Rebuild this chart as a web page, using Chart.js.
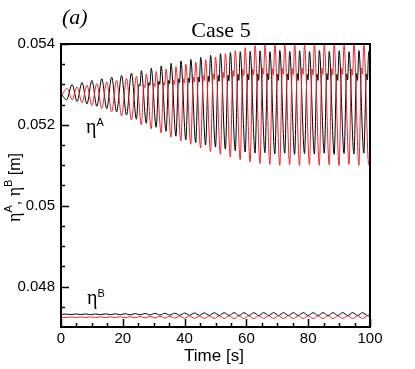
<!DOCTYPE html>
<html>
<head>
<meta charset="utf-8">
<script src="https://cdn.jsdelivr.net/npm/chart.js@4"></script>
<style>
  html, body { margin: 0; padding: 0; background: #fff; }
  #wrap { width: 415px; height: 369px; }
</style>
</head>
<body>
<div id="wrap"><canvas id="chart" width="415" height="369"></canvas></div>
<script>
// axis ticks
const xTicks = [0, 20, 40, 60, 80, 100];
const xMinorTicks = [5, 10, 15, 25, 30, 35, 45, 50, 55, 65, 70, 75, 85, 90, 95];
const yTicks = [0.048, 0.05, 0.052, 0.054];
const yTickLabels = ['0.048', '0.05', '0.052', '0.054'];
const yMinorTicks = [0.0475, 0.0485, 0.049, 0.0495, 0.0505, 0.051, 0.0515, 0.0525, 0.053, 0.0535];

// eta A, black curve: [time, value]
const etaA_black = [
  [0, 0.05278], [1.8, 0.05262], [3.6, 0.05300], [5.2, 0.05258], [6.8, 0.05305], [8.4, 0.05252],
  [10, 0.05310], [11.6, 0.05246], [13.2, 0.05314], [14.8, 0.05240], [16.4, 0.05318], [18, 0.05232],
  [19.6, 0.05322], [21.2, 0.05224], [22.8, 0.05328], [24.4, 0.05214],
  [25.25, 0.05300], [25.55, 0.05296], [26, 0.05334], [27.6, 0.05204],
  [28.45, 0.05305], [28.75, 0.05298], [29.2, 0.05340], [30.8, 0.05194],
  [31.65, 0.05308], [31.95, 0.05300], [32.4, 0.05346], [34, 0.05184],
  [34.85, 0.05310], [35.15, 0.05302], [35.6, 0.05352], [37.2, 0.05172],
  [38.05, 0.05314], [38.35, 0.05304], [38.8, 0.05358], [40.4, 0.05163],
  [41.25, 0.05316], [41.55, 0.05305], [42, 0.05362], [43.6, 0.05156],
  [44.45, 0.05318], [44.75, 0.05306], [45.2, 0.05367], [46.8, 0.05150],
  [47.65, 0.05320], [47.95, 0.05307], [48.4, 0.05372], [50, 0.05145],
  [50.85, 0.05322], [51.15, 0.05308], [51.6, 0.05376], [53.2, 0.05140],
  [54.05, 0.05323], [54.35, 0.05309], [54.8, 0.05379], [56.4, 0.05136],
  [57.25, 0.05325], [57.55, 0.05310], [58, 0.05381], [59.6, 0.05133],
  [60.45, 0.05326], [60.75, 0.05311], [61.2, 0.05382], [62.8, 0.05130],
  [63.65, 0.05326], [63.95, 0.05310], [64.4, 0.05383], [66, 0.05131],
  [66.85, 0.05327], [67.15, 0.05311], [67.6, 0.05381], [69.2, 0.05128],
  [70.05, 0.05325], [70.35, 0.05310], [70.8, 0.05384], [72.4, 0.05130],
  [73.25, 0.05326], [73.55, 0.05311], [74, 0.05382], [75.6, 0.05127],
  [76.45, 0.05327], [76.75, 0.05310], [77.2, 0.05383], [78.8, 0.05129],
  [79.65, 0.05325], [79.95, 0.05311], [80.4, 0.05381], [82, 0.05128],
  [82.85, 0.05326], [83.15, 0.05310], [83.6, 0.05384], [85.2, 0.05130],
  [86.05, 0.05327], [86.35, 0.05311], [86.8, 0.05382], [88.4, 0.05127],
  [89.25, 0.05325], [89.55, 0.05310], [90, 0.05383], [91.6, 0.05129],
  [92.45, 0.05326], [92.75, 0.05311], [93.2, 0.05381], [94.8, 0.05128],
  [95.65, 0.05327], [95.95, 0.05310], [96.4, 0.05384], [98, 0.05130],
  [98.85, 0.05326], [99.15, 0.05311], [99.6, 0.05382], [100, 0.05375]
];

// eta A, red curve
const etaA_red = [
  [0, 0.05270], [2, 0.05290], [3.6, 0.05262], [5.2, 0.05294], [6.8, 0.05255], [8.4, 0.05298],
  [10, 0.05248], [11.6, 0.05302], [13.2, 0.05240], [14.8, 0.05306], [16.4, 0.05232], [18, 0.05310],
  [19.6, 0.05222], [21.2, 0.05315], [22.8, 0.05212], [24.4, 0.05320], [26, 0.05200],
  [26.85, 0.05298], [27.15, 0.05292], [27.6, 0.05326], [29.2, 0.05190],
  [30.05, 0.05302], [30.35, 0.05295], [30.8, 0.05332], [32.4, 0.05180],
  [33.25, 0.05306], [33.55, 0.05298], [34, 0.05338], [35.6, 0.05170],
  [36.45, 0.05310], [36.75, 0.05300], [37.2, 0.05344], [38.8, 0.05160],
  [39.65, 0.05314], [39.95, 0.05303], [40.4, 0.05350], [42, 0.05152],
  [42.85, 0.05318], [43.15, 0.05306], [43.6, 0.05355], [45.2, 0.05143],
  [46.05, 0.05322], [46.35, 0.05309], [46.8, 0.05361], [48.4, 0.05134],
  [49.25, 0.05326], [49.55, 0.05312], [50, 0.05368], [51.6, 0.05127],
  [52.45, 0.05330], [52.75, 0.05316], [53.2, 0.05376], [54.8, 0.05120],
  [55.65, 0.05334], [55.95, 0.05320], [56.4, 0.05384], [58, 0.05114],
  [58.85, 0.05337], [59.15, 0.05322], [59.6, 0.05391], [61.2, 0.05108],
  [62.05, 0.05338], [62.35, 0.05324], [62.8, 0.05396], [64.4, 0.05104],
  [65.25, 0.05340], [65.55, 0.05325], [66, 0.05398], [67.6, 0.05102],
  [68.45, 0.05339], [68.75, 0.05324], [69.2, 0.05400], [70.8, 0.05100],
  [71.65, 0.05340], [71.95, 0.05325], [72.4, 0.05398], [74, 0.05101],
  [74.85, 0.05339], [75.15, 0.05324], [75.6, 0.05400], [77.2, 0.05099],
  [78.05, 0.05340], [78.35, 0.05325], [78.8, 0.05398], [80.4, 0.05102],
  [81.25, 0.05338], [81.55, 0.05323], [82, 0.05400], [83.6, 0.05100],
  [84.45, 0.05340], [84.75, 0.05325], [85.2, 0.05399], [86.8, 0.05101],
  [87.65, 0.05339], [87.95, 0.05324], [88.4, 0.05400], [90, 0.05099],
  [90.85, 0.05340], [91.15, 0.05325], [91.6, 0.05398], [93.2, 0.05102],
  [94.05, 0.05338], [94.35, 0.05323], [94.8, 0.05400], [96.4, 0.05100],
  [97.25, 0.05340], [97.55, 0.05325], [98, 0.05399], [99.6, 0.05101], [100, 0.05110]
];

// eta B, black curve
const etaB_black = [
  [0, 0.047312], [1.6, 0.047320], [3.2, 0.047307], [4.8, 0.047322], [6.4, 0.047307], [8, 0.047322],
  [9.6, 0.047305], [11.2, 0.047324], [12.8, 0.047305], [14.4, 0.047326], [16, 0.047303], [17.6, 0.047328],
  [19.2, 0.047302], [20.8, 0.047330], [22.4, 0.047300], [24, 0.047332], [25.6, 0.047299], [27.2, 0.047335],
  [28.8, 0.047297], [30.4, 0.047338], [32, 0.047295], [33.6, 0.047340], [35.2, 0.047293], [36.8, 0.047342],
  [38.4, 0.047292], [40, 0.047344], [41.6, 0.047290], [43.2, 0.047347], [44.8, 0.047289], [46.4, 0.047349],
  [48, 0.047288], [49.6, 0.047352], [51.2, 0.047287], [52.8, 0.047352], [54.4, 0.047286], [56, 0.047354],
  [57.6, 0.047285], [59.2, 0.047354], [60.8, 0.047285], [62.4, 0.047354], [64, 0.047285], [65.6, 0.047355],
  [67.2, 0.047284], [68.8, 0.047354], [70.4, 0.047285], [72, 0.047355], [73.6, 0.047284], [75.2, 0.047354],
  [76.8, 0.047285], [78.4, 0.047355], [80, 0.047284], [81.6, 0.047354], [83.2, 0.047285], [84.8, 0.047355],
  [86.4, 0.047284], [88, 0.047354], [89.6, 0.047285], [91.2, 0.047355], [92.8, 0.047284], [94.4, 0.047354],
  [96, 0.047285], [97.6, 0.047355], [99.2, 0.047284], [100, 0.047305]
];

// eta B, red curve
const etaB_red = [
  [0, 0.047242], [1.6, 0.047237], [3.2, 0.047247], [4.8, 0.047237], [6.4, 0.047248], [8, 0.047236],
  [9.6, 0.047249], [11.2, 0.047235], [12.8, 0.047250], [14.4, 0.047234], [16, 0.047252], [17.6, 0.047232],
  [19.2, 0.047254], [20.8, 0.047230], [22.4, 0.047256], [24, 0.047228], [25.6, 0.047258], [27.2, 0.047226],
  [28.8, 0.047260], [30.4, 0.047224], [32, 0.047262], [33.6, 0.047222], [35.2, 0.047264], [36.8, 0.047220],
  [38.4, 0.047266], [40, 0.047218], [41.6, 0.047268], [43.2, 0.047216], [44.8, 0.047270], [46.4, 0.047214],
  [48, 0.047272], [49.6, 0.047212], [51.2, 0.047274], [52.8, 0.047211], [54.4, 0.047275], [56, 0.047210],
  [57.6, 0.047275], [59.2, 0.047210], [60.8, 0.047276], [62.4, 0.047209], [64, 0.047275], [65.6, 0.047210],
  [67.2, 0.047276], [68.8, 0.047209], [70.4, 0.047275], [72, 0.047210], [73.6, 0.047276], [75.2, 0.047209],
  [76.8, 0.047275], [78.4, 0.047210], [80, 0.047276], [81.6, 0.047209], [83.2, 0.047275], [84.8, 0.047210],
  [86.4, 0.047276], [88, 0.047209], [89.6, 0.047275], [91.2, 0.047210], [92.8, 0.047276], [94.4, 0.047209],
  [96, 0.047275], [97.6, 0.047210], [99.2, 0.047276], [100, 0.047250]
];

const SANS = '"Liberation Sans", Arial, Helvetica, sans-serif';
const SERIF = '"Liberation Serif", "Times New Roman", serif';
const RED = '#ee2028';
const BLACK = '#000000';

const toXY = (pairs) => pairs.map(([t, v]) => ({ x: t, y: v }));

const line = (pairs, color) => ({
  data: toXY(pairs),
  borderColor: color,
  borderWidth: 1,
  pointRadius: 0,
  fill: false,
  cubicInterpolationMode: 'monotone'
});

// draw text made of several runs (font changes, superscripts)
function drawRuns(ctx, x, y, runs) {
  ctx.textAlign = 'left';
  ctx.textBaseline = 'alphabetic';
  for (const r of runs) {
    ctx.font = r.font;
    ctx.fillText(r.text, x, y + (r.dy || 0));
    x += ctx.measureText(r.text).width;
  }
}

const decor = {
  id: 'decor',
  afterDraw(chart) {
    const { ctx, chartArea: a, scales: { x, y } } = chart;
    ctx.save();
    ctx.strokeStyle = '#000';
    ctx.fillStyle = '#000';

    // frame
    ctx.lineWidth = 2;
    ctx.strokeRect(a.left, a.top, a.right - a.left, a.bottom - a.top);

    // inward ticks
    ctx.lineWidth = 1.5;
    ctx.beginPath();
    yTicks.forEach(v => { const p = Math.round(y.getPixelForValue(v)) + 0.5; ctx.moveTo(a.left, p); ctx.lineTo(a.left + 8, p); });
    yMinorTicks.forEach(v => { const p = Math.round(y.getPixelForValue(v)) + 0.5; ctx.moveTo(a.left, p); ctx.lineTo(a.left + 4, p); });
    xTicks.forEach(v => { const p = Math.round(x.getPixelForValue(v)) + 0.5; ctx.moveTo(p, a.bottom); ctx.lineTo(p, a.bottom - 8); });
    xMinorTicks.forEach(v => { const p = Math.round(x.getPixelForValue(v)) + 0.5; ctx.moveTo(p, a.bottom); ctx.lineTo(p, a.bottom - 4); });
    ctx.stroke();

    // title and panel letter
    ctx.font = '22px ' + SERIF;
    ctx.textAlign = 'center';
    ctx.textBaseline = 'alphabetic';
    ctx.fillText('Case 5', 221, 37);
    ctx.font = 'italic 22px ' + SERIF;
    ctx.textAlign = 'left';
    ctx.fillText('(a)', 62, 24);

    // x axis title
    ctx.font = '17px ' + SANS;
    ctx.textAlign = 'center';
    ctx.fillText('Time [s]', 214, 361);

    // y axis title, rotated
    ctx.save();
    ctx.translate(20, 222);
    ctx.rotate(-Math.PI / 2);
    drawRuns(ctx, 0, 0, [
      { text: 'η', font: '18px ' + SERIF },
      { text: 'A', font: '11px ' + SANS, dy: -8 },
      { text: ', ', font: '16px ' + SANS },
      { text: 'η', font: '18px ' + SERIF },
      { text: 'B', font: '11px ' + SANS, dy: -8 },
      { text: ' [m]', font: '16px ' + SANS }
    ]);
    ctx.restore();

    // curve labels
    drawRuns(ctx, x.getPixelForValue(8.1), y.getPixelForValue(0.0518), [
      { text: 'η', font: '20px ' + SERIF },
      { text: 'A', font: '11px ' + SANS, dy: -7 }
    ]);
    drawRuns(ctx, x.getPixelForValue(8.4), y.getPixelForValue(0.04758), [
      { text: 'η', font: '20px ' + SERIF },
      { text: 'B', font: '11px ' + SANS, dy: -7 }
    ]);
    ctx.restore();
  }
};

new Chart(document.getElementById('chart').getContext('2d'), {
  type: 'line',
  data: {
    datasets: [
      line(etaA_red, RED),
      line(etaA_black, BLACK),
      line(etaB_red, RED),
      line(etaB_black, BLACK)
    ]
  },
  options: {
    responsive: false,
    animation: false,
    devicePixelRatio: 1,
    layout: { padding: { top: 44, right: 45, left: 0, bottom: 0 } },
    plugins: { legend: { display: false }, tooltip: { enabled: false }, title: { display: false } },
    scales: {
      x: {
        type: 'linear',
        min: 0,
        max: 100,
        afterBuildTicks: s => { s.ticks = xTicks.map(v => ({ value: v })); },
        afterFit: s => { s.height = 42; },
        grid: { display: false, drawTicks: false },
        border: { display: false },
        ticks: { color: '#000', font: { family: SANS, size: 15 }, padding: 3, maxRotation: 0, autoSkip: false }
      },
      y: {
        type: 'linear',
        min: 0.047,
        max: 0.054,
        afterBuildTicks: s => { s.ticks = yTicks.map(v => ({ value: v })); },
        afterFit: s => { s.width = 61; },
        grid: { display: false, drawTicks: false },
        border: { display: false },
        ticks: {
          color: '#000',
          font: { family: SANS, size: 15 },
          padding: 6,
          autoSkip: false,
          callback: v => yTickLabels[yTicks.indexOf(v)]
        }
      }
    }
  },
  plugins: [decor]
});
</script>
</body>
</html>
